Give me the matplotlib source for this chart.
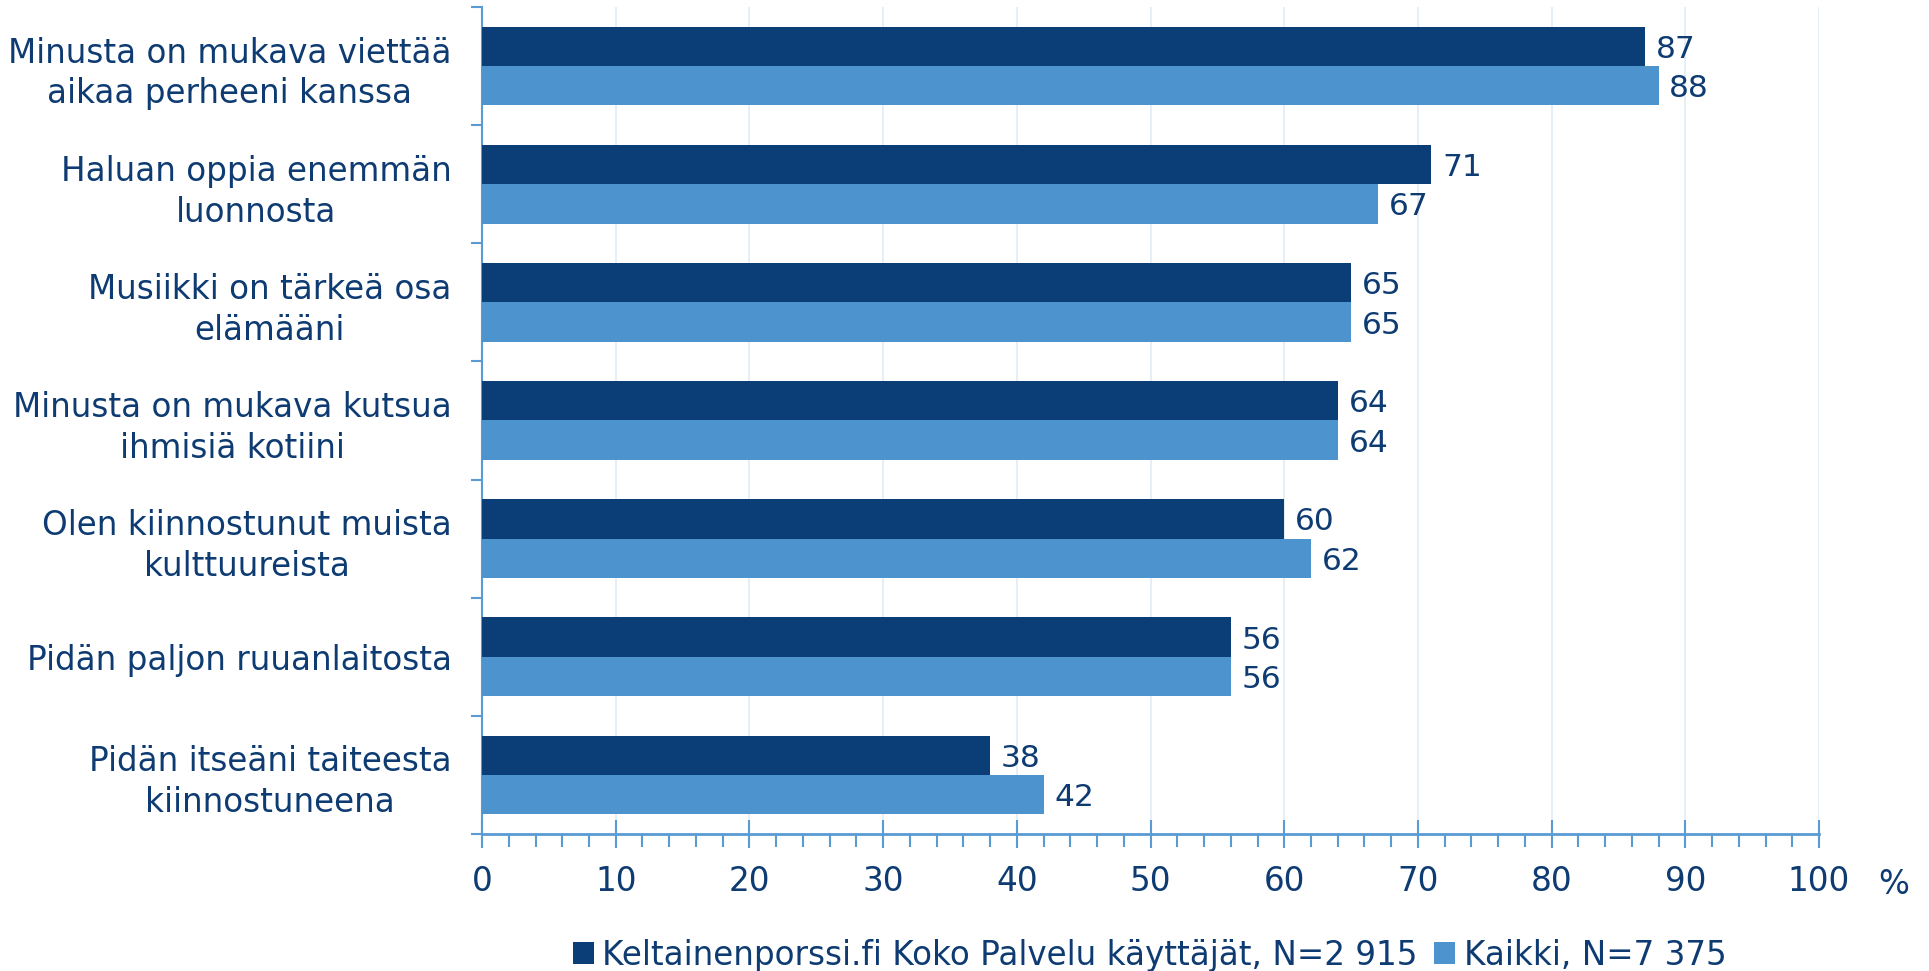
import matplotlib.pyplot as plt
import numpy as np

# Väittämät ylhäältä alas
kategoriat = [
    "Minusta on mukava viettää\naikaa perheeni kanssa",
    "Haluan oppia enemmän\nluonnosta",
    "Musiikki on tärkeä osa\nelämääni",
    "Minusta on mukava kutsua\nihmisiä kotiini",
    "Olen kiinnostunut muista\nkulttuureista",
    "Pidän paljon ruuanlaitosta",
    "Pidän itseäni taiteesta\nkiinnostuneena",
]
keltainen = [87, 71, 65, 64, 60, 56, 38]
kaikki = [88, 67, 65, 64, 62, 56, 42]
sarjat = ["Keltainenporssi.fi Koko Palvelu käyttäjät, N=2 915", "Kaikki, N=7 375"]
x_ticks = list(range(0, 101, 10))

tumma = "#0b3d77"
vaalea = "#4d93cd"
teksti = "#0d3b72"
akseli = "#5a9bd3"
fs = 23.5

plt.rcParams['font.family'] = ['DejaVu Sans']

fig = plt.figure(figsize=(19.29, 9.71), dpi=100)
ax = fig.add_axes([0.2499, 0.1411, 0.6931, 0.8517])

n = len(kategoriat)
y = np.arange(n)[::-1]
h = 0.333

b1 = ax.barh(y + h / 2, keltainen, height=h, color=tumma, label=sarjat[0], zorder=3)
b2 = ax.barh(y - h / 2, kaikki, height=h, color=vaalea, label=sarjat[1], zorder=3)

for yy, v in zip(y + h / 2, keltainen):
    ax.text(v + 0.8, yy, str(v), va='center_baseline', ha='left', fontsize=22.5, color=teksti)
for yy, v in zip(y - h / 2, kaikki):
    ax.text(v + 0.8, yy, str(v), va='center_baseline', ha='left', fontsize=22.5, color=teksti)

ax.set_xlim(0, 100)
ax.set_ylim(-0.5, n - 0.5)

# pystysuorat apuviivat
for xv in x_ticks[1:]:
    ax.axvline(xv, color="#e2ebf6", linewidth=1.2, zorder=1)

for s in ['top', 'right']:
    ax.spines[s].set_visible(False)
ax.spines['left'].set_color(akseli)
ax.spines['bottom'].set_color(akseli)
ax.spines['left'].set_linewidth(1.5)
ax.spines['bottom'].set_linewidth(2)

ax.set_xticks(x_ticks)
ax.set_xticks(np.arange(0, 101, 2), minor=True)
ax.tick_params(axis='x', which='major', direction='inout', length=20, width=1.5,
               color=akseli, labelsize=fs, labelcolor=teksti, pad=12)
ax.tick_params(axis='x', which='minor', direction='out', length=9, width=1.5, color=akseli)

ax.set_yticks(y)
ax.set_yticklabels(kategoriat, fontsize=fs, color=teksti, multialignment='center',
                   linespacing=1.3)
ax.set_yticks(np.arange(-0.5, n, 1), minor=True)
ax.tick_params(axis='y', which='major', length=0, pad=22)
ax.tick_params(axis='y', which='minor', direction='out', length=8, width=1.5, color=akseli)

fig.text(1894 / 1929, 1 - 884 / 971, "%", fontsize=fs, color=teksti, ha='center', va='center')

leg = fig.legend(handles=[b1, b2], loc='center', bbox_to_anchor=(0.596, 1 - 955 / 971),
                 ncol=2, frameon=False, fontsize=fs, handlelength=0.65, handleheight=0.65,
                 handletextpad=0.25, columnspacing=0.5, labelcolor=teksti)

fig.savefig("out.png", dpi=100)
